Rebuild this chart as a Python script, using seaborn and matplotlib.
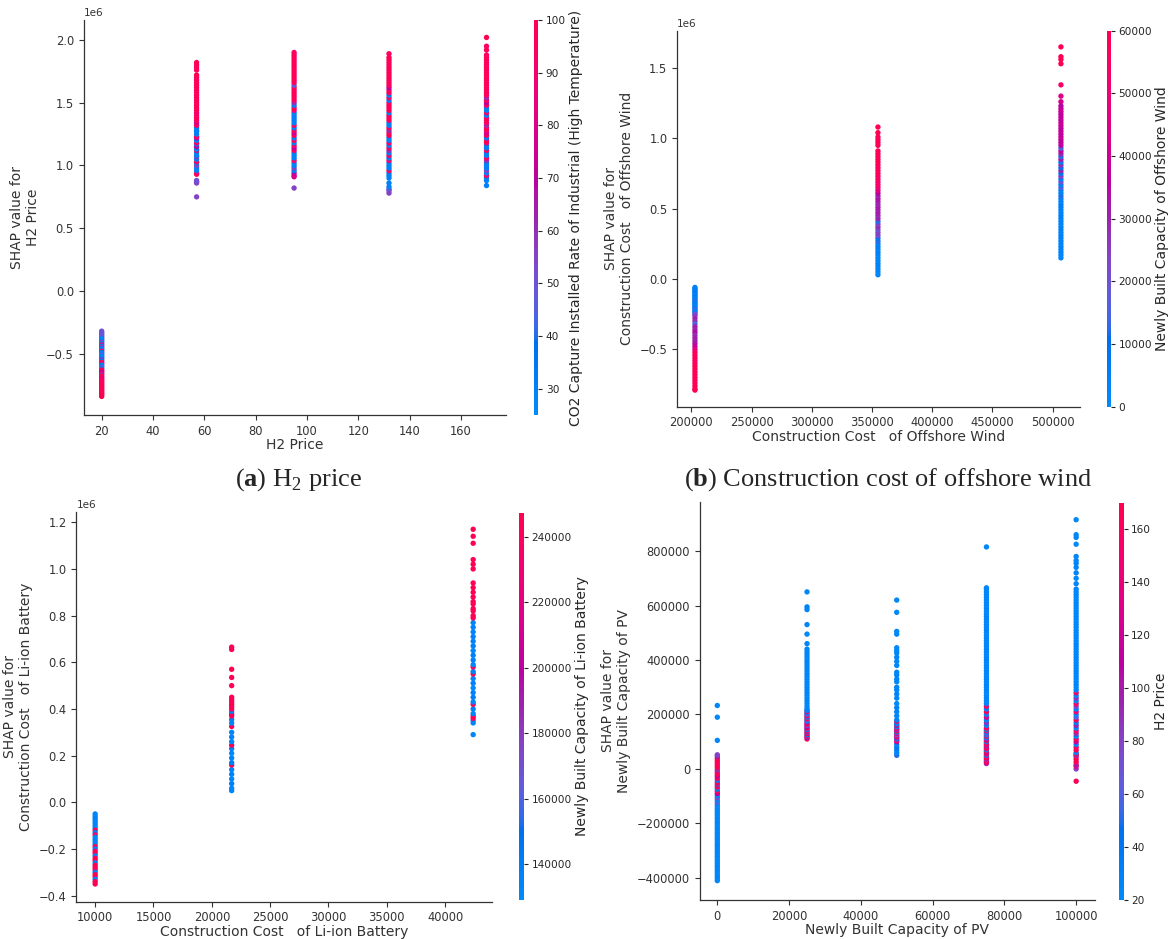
import numpy as np
import pandas as pd
import matplotlib
matplotlib.use("Agg")
import matplotlib.pyplot as plt
import seaborn as sns
from matplotlib.colors import LinearSegmentedColormap, Normalize
from matplotlib.cm import ScalarMappable

sns.set_style("ticks")
plt.rcParams['font.family'] = ['DejaVu Sans']
plt.rcParams['mathtext.fontset'] = 'custom'
plt.rcParams['mathtext.rm'] = 'Liberation Serif'
plt.rcParams['mathtext.bf'] = 'Liberation Serif:bold'

# ---------------- data ----------------
# (a) H2 Price  (SHAP in 1e6, colour = CO2 capture installed rate)
a_levels = [20, 57, 95, 132, 170]
a_y_20 = [-0.32,-0.33,-0.34,-0.35,-0.36,-0.37,-0.38,-0.39,-0.40,-0.41,-0.42,-0.43,-0.44,-0.45,-0.46,-0.47,-0.48,-0.49,-0.50,-0.51,-0.52,-0.53,-0.54,-0.55,-0.56,-0.57,-0.58,-0.59,-0.60,-0.61,-0.62,-0.63,-0.64,-0.65,-0.66,-0.67,-0.68,-0.69,-0.70,-0.71,-0.72,-0.73,-0.74,-0.75,-0.76,-0.77,-0.78,-0.79,-0.80,-0.81,-0.82,-0.83,-0.84]
a_c_20 = [50,52,48,50,45,50,30,28,30,55,30,85,30,60,30,28,95,30,30,45,30,28,30,60,30,95,95,30,30,50,30,95,95,70,95,60,95,98,80,95,98,95,100,95,98,95,100,95,98,100,95,98,100]
a_y_57 = [0.75,0.86,0.87,0.88,0.93,0.94,0.96,0.98,1.00,1.02,1.03,1.05,1.07,1.08,1.10,1.12,1.13,1.15,1.17,1.18,1.20,1.22,1.23,1.25,1.27,1.28,1.30,1.32,1.34,1.36,1.38,1.40,1.42,1.44,1.46,1.48,1.50,1.52,1.54,1.56,1.58,1.60,1.62,1.64,1.66,1.68,1.70,1.72,1.76,1.78,1.80,1.82]
a_c_57 = [55,55,55,50,98,95,30,30,55,30,95,30,60,30,30,95,30,70,30,95,30,75,95,30,30,30,30,95,80,95,98,95,90,98,95,100,95,98,95,100,95,98,95,100,95,98,95,100,95,98,95,100]
a_y_95 = [0.82,0.91,0.92,0.94,0.96,0.98,1.00,1.02,1.04,1.06,1.08,1.10,1.12,1.14,1.16,1.18,1.20,1.22,1.24,1.26,1.28,1.30,1.32,1.34,1.36,1.38,1.40,1.42,1.44,1.46,1.48,1.50,1.52,1.54,1.56,1.58,1.60,1.62,1.64,1.66,1.68,1.70,1.72,1.74,1.76,1.78,1.80,1.82,1.84,1.86,1.88,1.90]
a_c_95 = [55,75,80,70,30,55,30,30,95,30,30,30,95,70,95,30,95,30,98,75,95,30,95,30,30,30,30,30,95,98,30,60,95,98,95,100,95,98,45,95,98,95,100,95,98,95,100,95,98,95,100,95]
a_y_132 = [0.78,0.80,0.81,0.83,0.86,0.90,0.92,0.94,0.96,0.98,1.00,1.02,1.04,1.06,1.08,1.10,1.12,1.14,1.16,1.18,1.20,1.22,1.24,1.26,1.28,1.30,1.32,1.34,1.36,1.38,1.40,1.42,1.44,1.46,1.48,1.50,1.52,1.54,1.56,1.58,1.60,1.62,1.64,1.66,1.68,1.70,1.72,1.74,1.76,1.78,1.80,1.82,1.84,1.86,1.89]
a_c_132 = [55,55,50,30,30,30,30,30,95,30,30,30,95,30,95,30,60,95,30,95,30,30,95,98,60,95,30,30,95,98,95,30,100,95,98,95,30,95,30,98,95,70,95,98,95,100,95,98,95,100,95,98,95,100,95]
a_y_170 = [0.84,0.88,0.90,0.92,0.94,0.96,0.98,1.00,1.02,1.04,1.06,1.08,1.10,1.12,1.14,1.16,1.18,1.20,1.22,1.24,1.26,1.28,1.30,1.32,1.34,1.36,1.38,1.40,1.42,1.44,1.46,1.48,1.50,1.52,1.54,1.56,1.58,1.60,1.62,1.64,1.66,1.68,1.70,1.72,1.74,1.76,1.78,1.80,1.82,1.84,1.86,1.88,1.92,1.95,2.02]
a_c_170 = [30,30,30,95,30,55,30,30,30,60,95,30,30,95,30,30,95,98,30,95,75,95,98,60,95,98,95,30,95,30,30,95,70,98,60,95,98,95,100,95,98,95,100,95,98,95,100,95,98,95,100,95,98,95,100]

# (b) Construction cost of offshore wind (SHAP in 1e6, colour in thousands)
b_levels = [203000, 355000, 507000]
b_y_1 = [-0.06,-0.07,-0.08,-0.09,-0.10,-0.11,-0.12,-0.13,-0.14,-0.15,-0.16,-0.17,-0.18,-0.19,-0.20,-0.21,-0.22,-0.23,-0.24,-0.25,-0.26,-0.28,-0.30,-0.32,-0.34,-0.36,-0.38,-0.40,-0.42,-0.44,-0.46,-0.48,-0.50,-0.52,-0.54,-0.56,-0.58,-0.60,-0.62,-0.64,-0.66,-0.68,-0.70,-0.72,-0.74,-0.76,-0.78,-0.79]
b_c_1 = [5,3,6,2,8,4,3,6,2,5,12,3,6,4,2,7,14,3,5,18,25,30,28,15,32,30,35,28,32,30,34,38,45,55,58,57,59,56,58,60,57,59,58,60,57,59,58,60]
b_y_2 = [0.03,0.05,0.07,0.09,0.11,0.13,0.15,0.17,0.19,0.21,0.23,0.25,0.27,0.29,0.31,0.33,0.35,0.37,0.39,0.41,0.43,0.45,0.47,0.49,0.51,0.53,0.55,0.57,0.59,0.61,0.63,0.65,0.67,0.69,0.71,0.73,0.75,0.77,0.79,0.81,0.83,0.85,0.87,0.89,0.91,0.95,0.97,0.99,1.01,1.04,1.08]
b_c_2 = [2,1,3,2,4,1,3,2,5,3,6,4,12,8,22,25,20,28,24,12,30,28,32,30,33,29,31,34,30,36,45,50,55,52,57,55,58,56,59,57,58,60,57,59,58,60,57,59,58,60,59]
b_y_3 = [0.15,0.17,0.19,0.21,0.23,0.25,0.27,0.29,0.31,0.33,0.35,0.37,0.39,0.41,0.43,0.45,0.47,0.49,0.51,0.53,0.55,0.57,0.59,0.61,0.63,0.65,0.67,0.69,0.71,0.73,0.75,0.77,0.79,0.81,0.83,0.85,0.87,0.89,0.91,0.93,0.95,0.97,0.99,1.01,1.03,1.05,1.07,1.09,1.11,1.13,1.15,1.17,1.19,1.21,1.23,1.26,1.30,1.38,1.53,1.56,1.58,1.65]
b_c_3 = [2,1,3,2,4,1,3,2,5,3,2,4,1,3,2,5,3,2,4,6,3,2,12,4,3,15,5,20,4,25,8,30,10,28,6,32,12,30,38,15,35,38,36,40,37,39,36,38,40,37,39,36,38,40,35,42,45,55,60,58,60,59]

# (c) Construction cost of Li-ion battery (SHAP in 1e6, colour in thousands)
c_levels = [10000, 21700, 42400]
c_y_1 = [-0.05,-0.06,-0.07,-0.08,-0.09,-0.10,-0.11,-0.12,-0.13,-0.14,-0.15,-0.16,-0.17,-0.18,-0.19,-0.20,-0.21,-0.22,-0.23,-0.24,-0.25,-0.26,-0.27,-0.28,-0.29,-0.30,-0.31,-0.32,-0.33,-0.34,-0.35]
c_c_1 = [135,132,138,134,131,136,133,245,137,240,130,134,136,132,245,138,242,245,133,246,244,135,247,243,245,137,246,244,134,246,247]
c_y_2 = [0.05,0.06,0.08,0.10,0.12,0.14,0.16,0.17,0.19,0.21,0.23,0.245,0.26,0.28,0.30,0.325,0.34,0.355,0.37,0.38,0.39,0.40,0.41,0.42,0.43,0.44,0.45,0.50,0.535,0.57,0.655,0.665]
c_c_2 = [135,132,138,131,136,133,245,137,134,130,138,246,132,136,133,244,131,137,245,246,134,243,245,247,246,244,245,246,245,247,246,245]
c_y_3 = [0.29,0.34,0.35,0.36,0.37,0.38,0.40,0.42,0.43,0.45,0.47,0.49,0.51,0.53,0.55,0.56,0.58,0.59,0.61,0.63,0.65,0.67,0.69,0.71,0.73,0.75,0.77,0.79,0.80,0.82,0.83,0.85,0.86,0.88,0.90,0.92,0.94,1.00,1.02,1.04,1.11,1.14,1.17]
c_c_3 = [135,132,136,245,244,133,137,245,131,138,134,130,136,133,246,137,244,132,135,138,131,136,134,137,133,135,132,245,246,244,247,245,246,244,247,245,246,245,247,244,246,245,247]

# (d) Newly built capacity of PV (SHAP in thousands, colour = H2 price)
d_levels = [0, 25000, 50000, 75000, 100000]
d_y_1 = [-410,-402,-394,-386,-378,-370,-362,-354,-346,-338,-330,-322,-314,-306,-298,-290,-282,-274,-266,-258,-250,-242,-234,-226,-218,-210,-202,-194,-186,-178,-170,-162,-154,-146,-138,-130,-122,-114,-106,-98,-90,-82,-74,-66,-58,-50,-42,-34,-26,-18,-10,-2,6,14,22,30,38,46,52,105,190,233]
d_c_1 = [24,22,27,25,21,26,23,28,22,25,24,21,27,23,26,22,25,28,21,24,26,23,27,22,25,24,21,28,23,26,22,25,27,24,21,26,
         60,25,70,25,110,160,30,165,90,170,50,160,120,168,150,90,
         165,170,160,165,170,100,80,25,25,25]
d_y_2 = [110,115,120,125,130,135,140,145,150,155,160,165,170,175,180,185,190,195,200,205,210,215,220,230,240,250,260,270,280,290,300,310,320,330,340,350,360,370,380,390,400,410,420,430,440,460,495,530,585,595,650]
d_c_2 = [160,100,165,40,170,90,150,30,160,110,70,165,130,30,60,170,25,160,80,22,130,25,28,
         24,22,27,25,21,26,23,28,22,25,24,21,27,23,26,22,25,28,21,24,26,23,
         25,22,26,24,27,23]
d_y_3 = [50,60,70,80,90,100,105,110,115,120,125,130,135,140,145,150,155,160,165,170,175,180,195,210,225,240,260,275,290,300,320,330,345,355,380,395,410,425,435,445,495,505,575,620]
d_c_3 = [50,25,28,40,25,120,160,30,100,165,70,150,25,170,90,160,25,130,28,25,165,25,22,25,28,22,25,27,23,25,22,25,28,24,25,22,26,23,25,22,25,22,25,24]
d_y_4 = [20,25,30,35,40,45,50,55,60,65,70,75,80,85,90,95,100,105,110,115,120,125,130,135,140,145,150,160,170,180,190,200,210,220,230,240,250,260,270,280,290,300,310,320,330,340,350,360,370,380,390,400,410,420,430,440,450,460,470,480,490,500,510,520,530,540,550,560,570,580,590,600,610,620,630,640,650,660,665,815]
d_c_4 = [100,150,165,90,170,160,30,165,120,170,25,160,168,90,150,165,30,170,100,25,160,28,80,25,160,22,165,
         25,90,28,130,25,165,30,160,
         24,22,27,25,21,26,23,28,22,25,24,21,27,23,26,22,25,28,21,24,26,23,27,22,25,24,21,28,23,26,22,25,27,24,21,26,23,25,22,27,24,26,23,
         25,24]
d_y_5 = [-45,0,10,15,25,35,45,50,55,60,70,80,90,100,110,120,130,140,150,160,170,180,190,200,210,220,230,240,250,260,270,280,290,300,310,320,330,340,350,360,370,380,390,400,410,420,430,440,450,460,470,480,490,500,510,520,530,540,550,560,570,580,590,600,610,620,630,640,650,660,680,700,720,740,755,765,780,825,850,860,915]
d_c_5 = [165,80,150,100,165,170,160,90,165,25,
         168,160,30,120,165,28,90,160,25,100,30,170,60,25,150,28,80,165,25,90,22,160,
         24,22,27,25,21,26,23,28,22,25,24,21,27,23,26,22,25,28,21,24,26,23,27,22,25,24,21,28,23,26,22,25,27,24,21,26,23,25,
         25,22,26,24,27,23,25,22,26,24,25]

# ---------------- SHAP red_blue colormap ----------------
def lch2rgb(l, c, h):
    a = c * np.cos(h); b = c * np.sin(h)
    fy = (l + 16) / 116; fx = fy + a / 500; fz = fy - b / 200
    def finv(t):
        return t ** 3 if t > 6 / 29 else 3 * (6 / 29) ** 2 * (t - 4 / 29)
    xyz = np.array([0.95047 * finv(fx), finv(fy), 1.08883 * finv(fz)])
    M = np.array([[3.2406, -1.5372, -0.4986], [-0.9689, 1.8758, 0.0415], [0.0557, -0.2040, 1.0570]])
    rgb = M @ xyz
    rgb = np.where(rgb > 0.0031308, 1.055 * np.power(np.clip(rgb, 0, None), 1 / 2.4) - 0.055, 12.92 * rgb)
    return np.clip(rgb, 0, 1)

blue_lch = [54., 70., 4.6588]
red_lch = [54., 90., 0.35470565 + 2 * np.pi]
l_mid = 40.
nsteps = 100
l_vals = list(np.linspace(blue_lch[0], l_mid, nsteps // 2)) + list(np.linspace(l_mid, red_lch[0], nsteps // 2))
c_vals = np.linspace(blue_lch[1], red_lch[1], nsteps)
h_vals = np.linspace(blue_lch[2], red_lch[2], nsteps)
cols = [lch2rgb(l, c, h) for l, c, h in zip(l_vals, c_vals, h_vals)]
red_blue = LinearSegmentedColormap.from_list("red_blue", cols)

AXC = "#333333"

def build(levels, ys, cs, yscale=1.0, cscale=1.0):
    rows = []
    for lv, yy, cc in zip(levels, ys, cs):
        for y, c in zip(yy, cc):
            rows.append((lv, y * yscale, c * cscale))
    return pd.DataFrame(rows, columns=["x", "y", "c"])

fig = plt.figure(figsize=(11.72, 9.39), dpi=100)
W, H = 1172, 939

def rect(l, r, t, b):
    return [l / W, 1 - b / H, (r - l) / W, (b - t) / H]

panels = [
    dict(df=build(a_levels, [a_y_20, a_y_57, a_y_95, a_y_132, a_y_170], [a_c_20, a_c_57, a_c_95, a_c_132, a_c_170], 1e6),
         ax=rect(83.6, 506, 20, 415), cax=rect(533.7, 538.2, 20, 415),
         xlim=(12.96, 177.6), ylim=(-0.988e6, 2.159e6), cl=(25, 100),
         xlabel="H2 Price", ylabel="SHAP value for\nH2 Price",
         clabel="CO2 Capture Installed Rate of Industrial (High Temperature)"),
    dict(df=build(b_levels, [b_y_1, b_y_2, b_y_3], [b_c_1, b_c_2, b_c_3], 1e6, 1000),
         ax=rect(677.2, 1080, 30.7, 406.7), cax=rect(1106.5, 1111, 30.7, 406.7),
         xlim=(188260, 522830), ylim=(-0.908e6, 1.765e6), cl=(0, 60000),
         xlabel="Construction Cost   of Offshore Wind",
         ylabel="SHAP value for\nConstruction Cost   of Offshore Wind",
         clabel="Newly Built Capacity of Offshore Wind"),
    dict(df=build(c_levels, [c_y_1, c_y_2, c_y_3], [c_c_1, c_c_2, c_c_3], 1e6, 1000),
         ax=rect(76.4, 491.9, 512, 901.7), cax=rect(519.4, 523.9, 512.7, 900),
         xlim=(8393, 44006), ylim=(-0.426e6, 1.244e6), cl=(129100, 247300),
         xlabel="Construction Cost   of Li-ion Battery",
         ylabel="SHAP value for\nConstruction Cost   of Li-ion Battery",
         clabel="Newly Built Capacity of Li-ion Battery"),
    dict(df=build(d_levels, [d_y_1, d_y_2, d_y_3, d_y_4, d_y_5], [d_c_1, d_c_2, d_c_3, d_c_4, d_c_5], 1000),
         ax=rect(699.9, 1094.8, 502, 900), cax=rect(1119, 1123.5, 503, 900),
         xlim=(-4850, 105200), ylim=(-481000, 980000), cl=(20, 170),
         xlabel="Newly Built Capacity of PV",
         ylabel="SHAP value for\nNewly Built Capacity of PV",
         clabel="H2 Price"),
]

for p in panels:
    ax = fig.add_axes(p["ax"])
    norm = Normalize(*p["cl"])
    sns.scatterplot(data=p["df"], x="x", y="y", hue="c", palette=red_blue, hue_norm=norm,
                    s=15, linewidth=0, legend=False, ax=ax)
    ax.set_xlim(*p["xlim"])
    ax.set_ylim(*p["ylim"])
    ax.set_xlabel(p["xlabel"], fontsize=10, color=AXC, labelpad=0.5)
    ax.set_ylabel(p["ylabel"], fontsize=10, color=AXC)
    for s in ["top", "right"]:
        ax.spines[s].set_visible(False)
    for s in ["left", "bottom"]:
        ax.spines[s].set_color(AXC)
        ax.spines[s].set_linewidth(0.9)
    ax.tick_params(color=AXC, labelcolor=AXC, labelsize=8.3, length=3.5, width=0.8)
    ax.yaxis.get_offset_text().set_fontsize(7.5)
    ax.yaxis.get_offset_text().set_color(AXC)
    cax = fig.add_axes(p["cax"])
    cb = fig.colorbar(ScalarMappable(norm=norm, cmap=red_blue), cax=cax)
    cb.outline.set_visible(False)
    cb.set_label(p["clabel"], fontsize=10, labelpad=2)
    cb.ax.tick_params(labelsize=7.6, length=3, width=0.8, pad=2.5)

fig.text(299 / W, 1 - 480 / H, r"($\mathbf{a}$) H$_2$ price", family="Liberation Serif",
         fontsize=19, ha="center", va="center")
fig.text(888 / W, 1 - 480 / H, r"($\mathbf{b}$) Construction cost of offshore wind", family="Liberation Serif",
         fontsize=19, ha="center", va="center")

fig.savefig("out.png", dpi=100)
